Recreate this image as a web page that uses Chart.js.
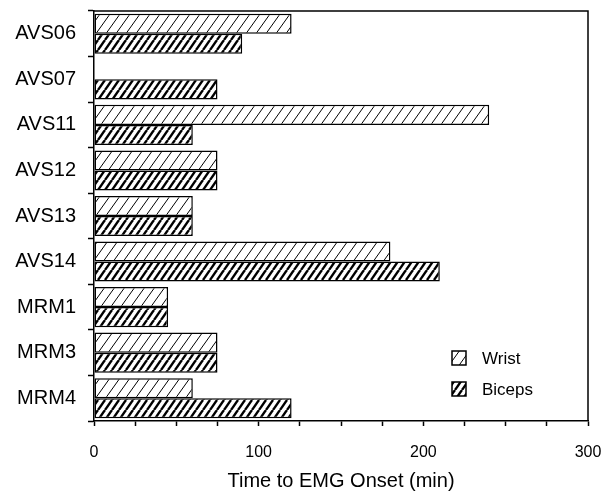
<!DOCTYPE html>
<html>
<head>
<meta charset="utf-8">
<script src="https://cdn.jsdelivr.net/npm/chart.js@4.4.0/dist/chart.umd.min.js"></script>
<style>
  html, body { margin: 0; padding: 0; background: #fff; }
  #wrap { width: 602px; height: 493px; position: relative; }
</style>
</head>
<body>
<div id="wrap"><canvas id="myCanvas" width="602" height="493"></canvas></div>
<script>
const categories = ['AVS06', 'AVS07', 'AVS11', 'AVS12', 'AVS13', 'AVS14', 'MRM1', 'MRM3', 'MRM4'];
const wrist = [120, null, 240, 75, 60, 180, 45, 75, 60];
const biceps = [90, 75, 60, 75, 60, 210, 45, 75, 120];
const xTicks = [0, 100, 200, 300];
const seriesNames = ['Wrist', 'Biceps'];

const FONT = "'Liberation Sans', Arial, Helvetica, sans-serif";

// diagonal hatch fill, w = horizontal spacing, h = rise of one line
function hatch(w, h, lw) {
  let c = document.createElement('canvas');
  c.width = w;
  c.height = h;
  let g = c.getContext('2d');
  g.fillStyle = '#fff';
  g.fillRect(0, 0, w, h);
  g.strokeStyle = '#000';
  g.lineWidth = lw;
  for (let k = -1; k <= 1; k++) {
    g.beginPath();
    g.moveTo(k * w, h);
    g.lineTo(k * w + w, 0);
    g.stroke();
  }
  return g.createPattern(c, 'repeat');
}

let ctx = document.getElementById('myCanvas').getContext('2d');
let wristFill = hatch(10, 14, 1);
let bicepsFill = hatch(7, 10, 2.4);

// frame around the plot and the legend inside it
const framePlugin = {
  id: 'frame',
  afterDraw(chart) {
    let c = chart.ctx;
    let a = chart.chartArea;
    c.save();
    c.strokeStyle = '#000';
    c.lineWidth = 1.5;
    c.beginPath();
    c.moveTo(a.left, a.top);
    c.lineTo(a.right, a.top);
    c.lineTo(a.right, a.bottom);
    c.stroke();

    let fills = [wristFill, bicepsFill];
    c.font = '17px ' + FONT;
    c.textBaseline = 'middle';
    seriesNames.forEach((name, i) => {
      let bx = a.right - 136;
      let cy = a.bottom - 63 + i * 31;
      c.fillStyle = fills[i];
      c.fillRect(bx, cy - 7, 14, 14);
      c.lineWidth = 1.5;
      c.strokeRect(bx, cy - 7, 14, 14);
      c.fillStyle = '#000';
      c.fillText(name, bx + 30, cy + 1);
    });
    c.restore();
  }
};

new Chart(ctx, {
  type: 'bar',
  data: {
    labels: categories,
    datasets: [{
      label: seriesNames[0],
      data: wrist,
      backgroundColor: wristFill,
      borderColor: '#000',
      borderWidth: 1.5,
      borderSkipped: false
    }, {
      label: seriesNames[1],
      data: biceps,
      backgroundColor: bicepsFill,
      borderColor: '#000',
      borderWidth: 1.5,
      borderSkipped: false
    }]
  },
  options: {
    indexAxis: 'y',
    responsive: false,
    animation: false,
    categoryPercentage: 0.88,
    barPercentage: 1,
    layout: { padding: { top: 11, right: 14, left: 0, bottom: 0 } },
    plugins: {
      legend: { display: false },
      tooltip: { enabled: false }
    },
    scales: {
      x: {
        min: 0,
        max: 300,
        afterFit: s => {
          s.height = 72;
          s.paddingLeft = 0;
          s.paddingRight = 0;
        },
        afterBuildTicks: s => {
          s.ticks = [];
          for (let v = 0; v <= 300; v += 25) s.ticks.push({ value: v });
        },
        ticks: {
          autoSkip: false,
          maxRotation: 0,
          padding: 17,
          color: '#000',
          font: { family: FONT, size: 16 },
          callback: v => xTicks.includes(v) ? String(v) : ''
        },
        grid: { drawOnChartArea: false, tickLength: 5, tickColor: '#000', tickWidth: 1.5 },
        border: { color: '#000', width: 1.5 },
        title: {
          display: true,
          text: 'Time to EMG Onset (min)',
          color: '#000',
          font: { family: FONT, size: 20 },
          padding: { top: 0, bottom: 0 }
        }
      },
      y: {
        afterFit: s => {
          s.width = 94;
          s.paddingTop = 0;
          s.paddingBottom = 0;
        },
        ticks: {
          padding: 12,
          color: '#000',
          font: { family: FONT, size: 20 }
        },
        grid: { drawOnChartArea: false, offset: true, tickLength: 6, tickColor: '#000', tickWidth: 1.5 },
        border: { color: '#000', width: 1.5 }
      }
    }
  },
  plugins: [framePlugin]
});
</script>
</body>
</html>
